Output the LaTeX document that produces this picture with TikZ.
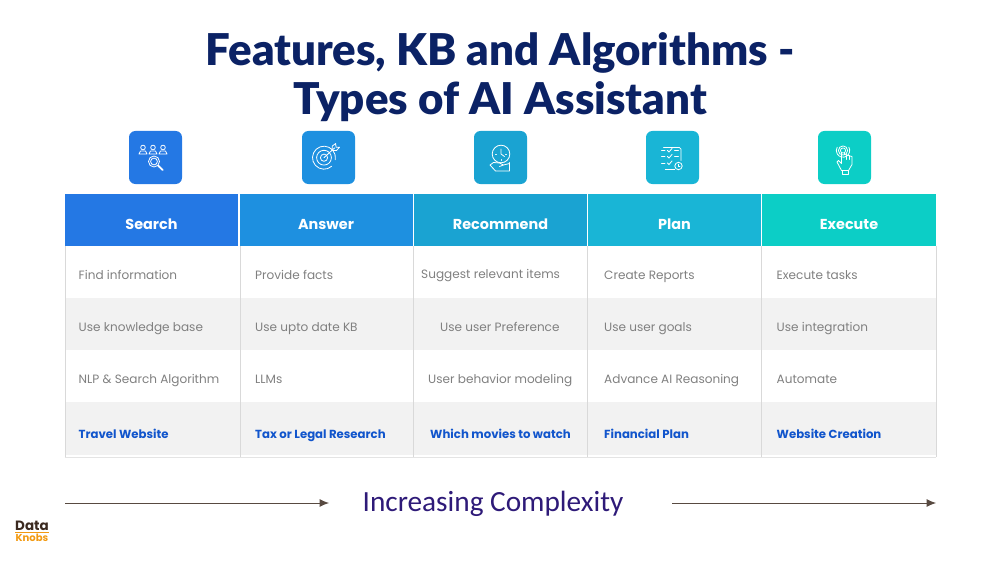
\documentclass[tikz,border=0pt]{standalone}
\usepackage{fontspec}
\setmainfont{Poppins}
\newfontfamily\titlefont{Lato}[BoldFont={Lato Black}]
\newfontfamily\notefont{Carlito}
\usetikzlibrary{positioning}
\usetikzlibrary{arrows.meta}

\definecolor{titleblue}{HTML}{0B2265}
\definecolor{searchblue}{HTML}{2478E4}
\definecolor{answerblue}{HTML}{1E90E0}
\definecolor{recommendblue}{HTML}{1AA3D2}
\definecolor{planblue}{HTML}{19B5D6}
\definecolor{executeteal}{HTML}{0CCEC6}
\definecolor{rowgrey}{HTML}{F2F2F2}
\definecolor{ruleline}{HTML}{D9D9D9}
\definecolor{celltext}{HTML}{808080}
\definecolor{usecase}{HTML}{1155CC}
\definecolor{notepurple}{HTML}{2E1A78}
\definecolor{logobrown}{HTML}{3B2A20}
\definecolor{logoorange}{HTML}{F29A12}

\tikzset{
  iconbox/.style={rounded corners=1.9mm,minimum width=53*0.3mm,minimum height=53*0.3mm,inner sep=0pt},
  headcell/.style={minimum width=173.5*0.3mm,minimum height=52*0.3mm,inner sep=0pt,text=white,text height=15.4pt,text depth=0pt,font=\fontsize{12.3}{14}\selectfont\bfseries},
  bodycell/.style={anchor=base west,inner sep=0pt,text=celltext,font=\fontsize{10.3}{13}\selectfont},
  casecell/.style={anchor=base west,inner sep=0pt,text=usecase,font=\fontsize{10}{13}\selectfont\bfseries},
  glyph/.style={draw=white,line width=0.24mm,line cap=round,line join=round},
  trend/.style={draw=logobrown!85!white,line width=0.3mm,-{Latex[length=2.8mm,width=2.4mm]}},
}

\begin{document}
\begin{tikzpicture}[x=0.03cm,y=-0.03cm]
  \useasboundingbox (0,0) rectangle (1000,563);

  \node [font=\titlefont\fontsize{37.4}{42}\selectfont\bfseries,text=titleblue,align=center,inner sep=0pt] (title) at (500,77.5) {Features, KB and Algorithms -\\Types of AI Assistant};

  % row bands
  \fill [rowgrey] (64.5,298) rectangle (936,350);
  \fill [rowgrey] (64.5,402) rectangle (936,454.5);

  % column rules
  \draw [ruleline,thick] (65,246) -- (65,457);
  \draw [ruleline,thick] (240,246) -- (240,457);
  \draw [ruleline,thick] (413.5,246) -- (413.5,457);
  \draw [ruleline,thick] (587.5,246) -- (587.5,457);
  \draw [ruleline,thick] (761.5,246) -- (761.5,457);
  \draw [ruleline,thick] (936,246) -- (936,457);
  \draw [ruleline!70!white,thick] (64.5,457) -- (936,457);

  % header
  \node [headcell,fill=searchblue] (search) at (151.5,220) {Search};
  \node [headcell,fill=answerblue] (answer) at (326,220) {Answer};
  \node [headcell,fill=recommendblue] (recommend) at (500.5,220) {Recommend};
  \node [headcell,fill=planblue] (plan) at (674.5,220) {Plan};
  \node [headcell,fill=executeteal] (execute) at (849,220) {Execute};
  \draw [white,thick] (239,194) -- (239,246);
  \draw [white,thick] (587.5,194) -- (587.5,246);
  \draw [white,thick] (761.5,194) -- (761.5,246);

  % cells
  \node [bodycell] (find) at (78.5,279.5) {Find information};
  \node [bodycell] (kb) at (78.5,331.5) {Use knowledge base};
  \node [bodycell] (nlp) at (78.5,383.5) {NLP \& Search Algorithm};
  \node [casecell] (travel) at (78.5,438.5) {Travel Website};

  \node [bodycell] (facts) at (255,279.5) {Provide facts};
  \node [bodycell] (upto) at (255,331.5) {Use upto date KB};
  \node [bodycell] (llm) at (255,383.5) {LLMs};
  \node [casecell] (tax) at (255,438.5) {Tax or Legal Research};

  \node [bodycell] (suggest) at (421,278.5) {Suggest relevant items};
  \node [bodycell] (prefer) at (440,331.5) {Use user Preference};
  \node [bodycell] (behave) at (428,383.5) {User behavior modeling};
  \node [casecell] (movies) at (430,438.5) {Which movies to watch};

  \node [bodycell] (reports) at (604,279.5) {Create Reports};
  \node [bodycell] (goals) at (604,331.5) {Use user goals};
  \node [bodycell] (reason) at (604,383.5) {Advance AI Reasoning};
  \node [casecell] (finance) at (604,438.5) {Financial Plan};

  \node [bodycell] (tasks) at (776.5,279.5) {Execute tasks};
  \node [bodycell] (integrate) at (776.5,331.5) {Use integration};
  \node [bodycell] (automate) at (776.5,383.5) {Automate};
  \node [casecell] (website) at (776.5,438.5) {Website Creation};

  % icons
  \node [iconbox,fill=searchblue] (searchicon) at (155.5,157.5) {};
  \node [iconbox,fill=answerblue] (answericon) at (328.5,157.5) {};
  \node [iconbox,fill=recommendblue] (recommendicon) at (500.5,157.5) {};
  \node [iconbox,fill=planblue] (planicon) at (672.5,157.5) {};
  \node [iconbox,fill=executeteal] (executeicon) at (844.5,157.5) {};

  \begin{scope}[shift={(searchicon.center)},glyph]
    \draw (-12.5,-10) circle (2.3);
    \draw (-2.5,-10) circle (2.3);
    \draw (7.5,-10) circle (2.3);
    \draw (-16.5,-3.5) -- (-15,-6.5) -- (-10,-6.5) -- (-8.5,-3.5) -- cycle;
    \draw (-6.5,-3.5) -- (-5,-6.5) -- (0,-6.5) -- (1.5,-3.5) -- cycle;
    \draw (3.5,-3.5) -- (5,-6.5) -- (10,-6.5) -- (11.5,-3.5) -- cycle;
    \draw (-1.5,4) circle (5.5);
    \draw (-1.5,4) circle (3.4);
    \draw [line width=0.55mm] (2.8,8.3) -- (7.2,12.5);
  \end{scope}

  \begin{scope}[shift={(answericon.center)},glyph]
    \draw (-4.5,0.2) circle (3.6);
    \draw (-4.5,0.2) circle (7.4);
    \draw (-4.5,0.2) ++(48:11.5) arc (48:370:11.5);
    \draw (-4.5,0.2) -- (6,-9.5);
    \draw (3.5,-7.2) -- (3.8,-11.5) -- (7.2,-14) -- (7.5,-10.3) -- (11,-10.3) -- (8,-7) -- cycle;
  \end{scope}

  \begin{scope}[shift={(recommendicon.center)},glyph]
    \draw (0.5,-3.5) circle (8.8);
    \draw (0.5,-8.5) -- (0.5,-3.5) -- (4,-1);
    \draw (-5,-3.5) -- (-4,-3.5);
    \draw (5,-3.5) -- (6,-3.5);
    \draw (0.5,2) -- (0.5,3);
    \draw (-10.5,7.5) -- (-7,5) -- (-1,5.5) -- (3,7.5) -- (-1,9) (3,7.5) -- (9,6) (9,5) -- (9,13.5) -- (3,13.5) -- (-5,13.5) -- (-10.5,7.5);
  \end{scope}

  \begin{scope}[shift={(planicon.center)},glyph]
    \draw [rounded corners=0.5mm] (-9,-10) -- (8.5,-10) -- (8.5,3) (4,12) -- (-9,12) -- cycle;
    \draw (-11,-7) -- (-7.5,-7);
    \draw (-11,-1) -- (-7.5,-1);
    \draw (-11,5.5) -- (-7.5,5.5);
    \draw (-5,-7) -- (-3.5,-5.5) -- (-0.5,-9);
    \draw (-5,-1) -- (-3.5,0.5) -- (-0.5,-3);
    \draw (-5,5.5) -- (-3.5,7) -- (-0.5,3.5);
    \draw (2,-7) -- (6,-7);
    \draw (2,-1) -- (6,-1);
    \draw (6,8.5) circle (3.7);
    \draw (6,6.8) -- (6,8.5) -- (7.5,8.5);
  \end{scope}

  \begin{scope}[shift={(executeicon.center)},glyph]
    \draw (-1.5,-7) circle (2.6);
    \draw (-1.5,-7) circle (4.6);
    \draw (-1.5,-7) ++(-30:6.7) arc (-30:210:6.7) ;
    \draw (-3,-5) -- (-3,6) -- (-6,3) -- (-7.5,4.5) -- (-3,13) -- (4,13) -- (7.5,7) -- (7.5,-1) -- (0,-3) -- (0,-5);
    \draw (2,-3) -- (2,2);
    \draw (5,-2) -- (5,2);
    \draw (-2,13) -- (-2,16.5) -- (3.5,16.5) -- (3.5,13);
  \end{scope}

  % bottom note
  \node [font=\notefont\fontsize{25}{28}\selectfont,text=notepurple,inner sep=0pt] (complexity) at (493,504) {Increasing Complexity};
  \coordinate (leftfrom) at (65,503);
  \coordinate (leftto) at (329,503);
  \coordinate (rightfrom) at (672,503);
  \coordinate (rightto) at (936,503);
  \draw [trend] (leftfrom) -- (leftto);
  \draw [trend] (rightfrom) -- (rightto);

  % logo
  \node [inner sep=0pt,text=logobrown,font=\fontsize{11.5}{12}\selectfont\bfseries] (logodata) at (32,525.5) {Data};
  \node [inner sep=0pt,text=logoorange,font=\fontsize{8.6}{9}\selectfont\bfseries] (logoknobs) at (32,537.5) {Knobs};
  \draw [logoorange,line width=0.25mm] (15,532) -- (49,532);
\end{tikzpicture}
\end{document}
